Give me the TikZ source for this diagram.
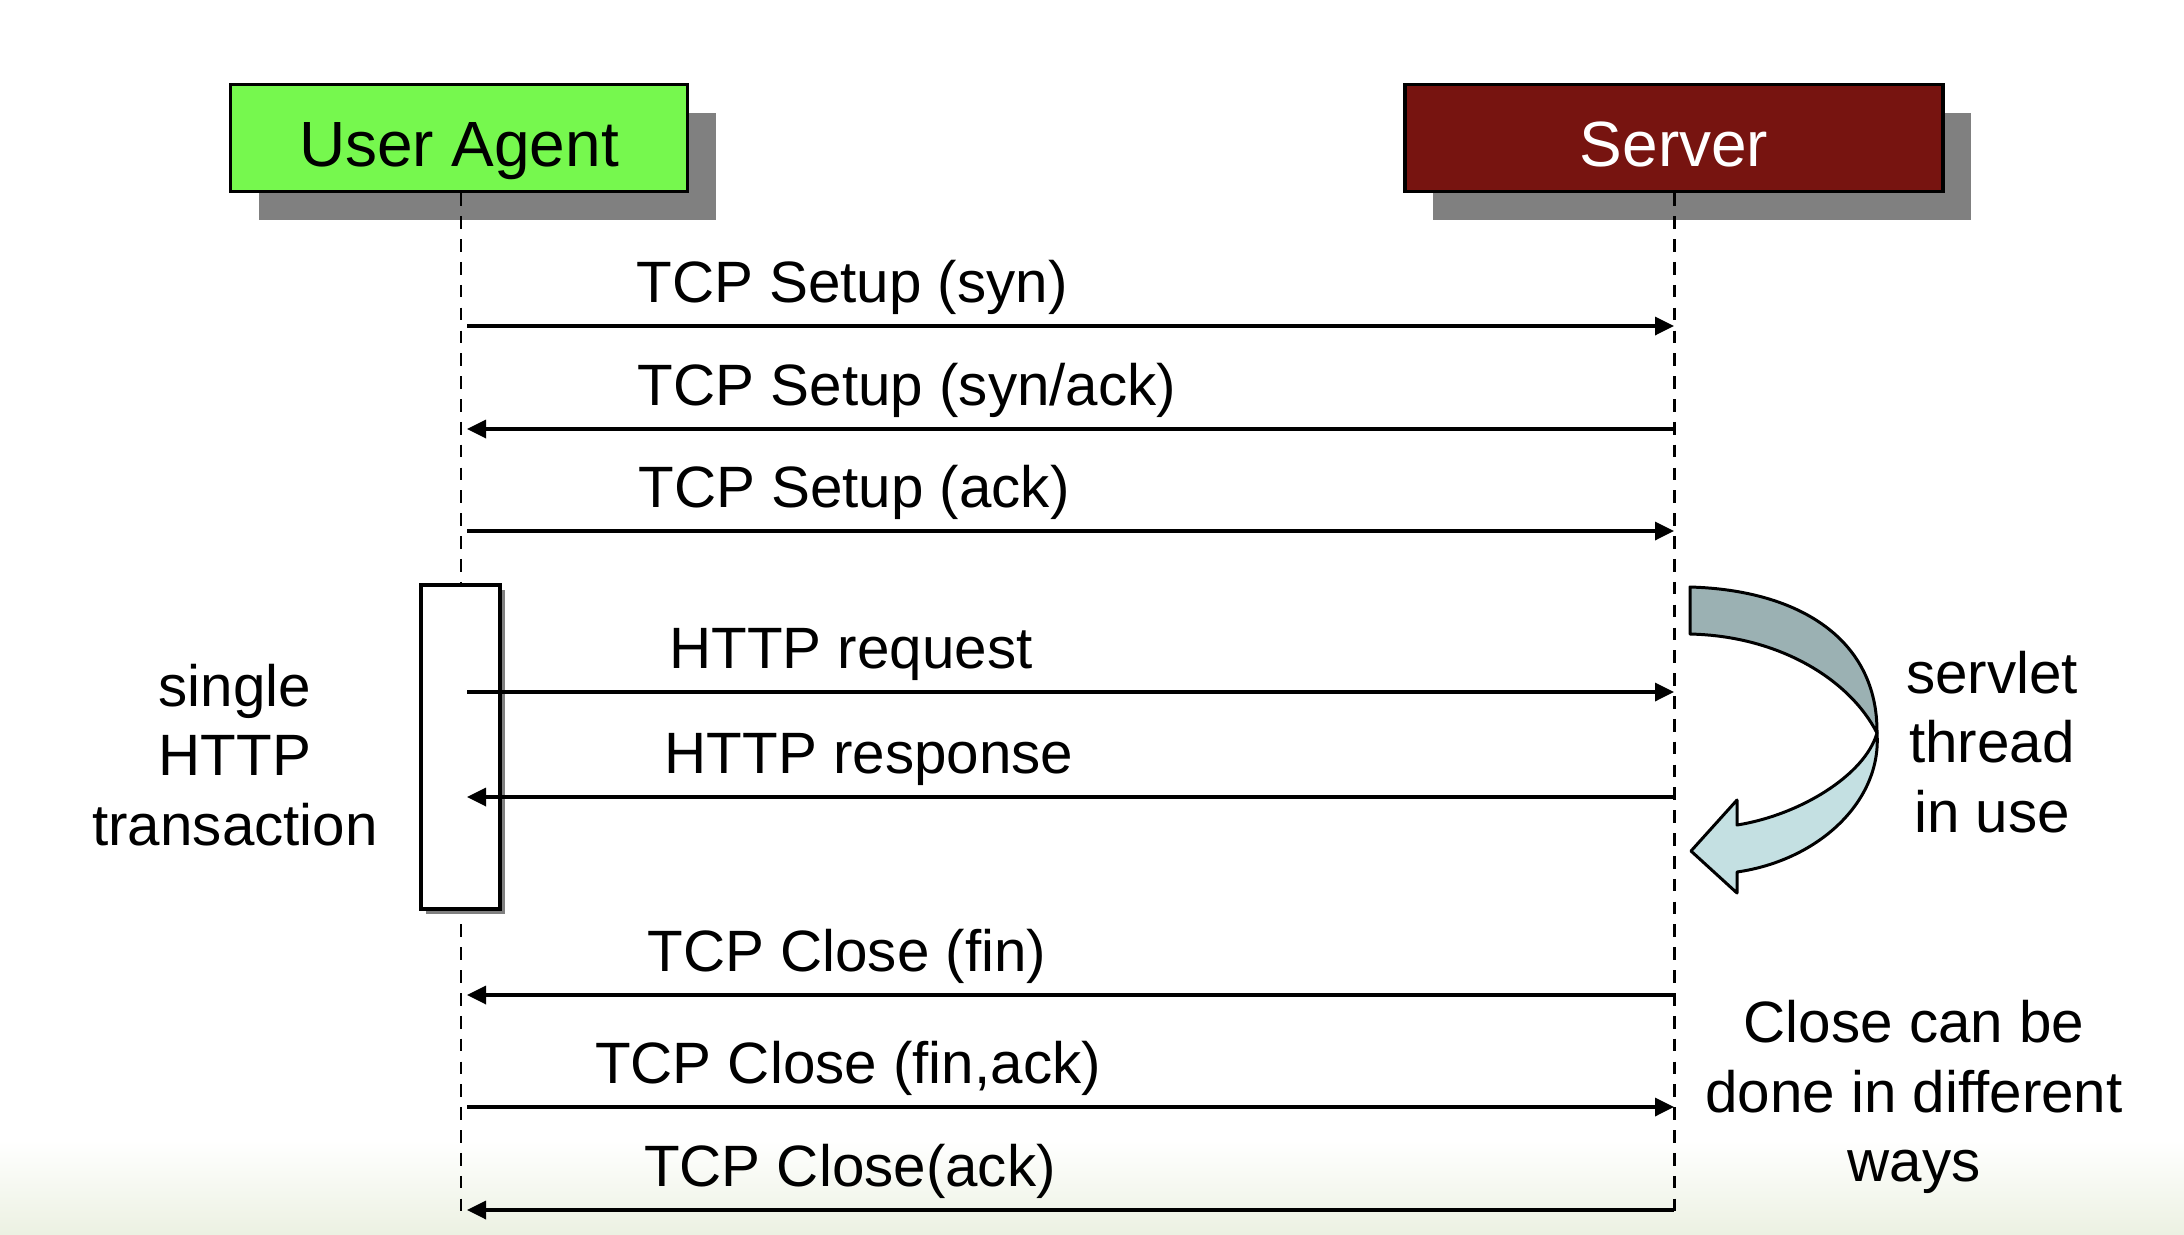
\documentclass[tikz,border=0pt]{standalone}
\usepackage{fontspec}
\setmainfont{Liberation Sans}
\usepackage{tikz}
\usetikzlibrary{
  arrows.meta,
  shadows
}
\definecolor{agent}{RGB}{118,248,78}
\definecolor{server}{RGB}{119,20,16}
\definecolor{threaddark}{RGB}{155,177,179}
\definecolor{threadlight}{RGB}{196,224,226}
\definecolor{slidebg}{RGB}{236,241,226}

\begin{document}
\begin{tikzpicture}[
  actor/.style={rectangle,draw,line width=1.1pt,minimum height=10.7mm,inner sep=0pt,text height=5.7mm,text depth=0mm,font=\fontsize{18.2}{22}\selectfont,drop shadow={shadow xshift=2.8mm,shadow yshift=-2.8mm,fill=gray,opacity=1}},
  activation/.style={rectangle,draw,fill=white,line width=1.1pt,minimum width=7.9mm,minimum height=32.4mm,inner sep=0pt,drop shadow={shadow xshift=0.5mm,shadow yshift=-0.5mm,fill=gray,opacity=1}},
  lifeline/.style={line width=0.85pt,dash pattern=on 3.6pt off 2.9pt},
  msg/.style={-{Triangle[length=1.9mm,width=1.8mm]},line width=0.95pt},
  msglabel/.style={anchor=base,inner sep=0pt,font=\fontsize{16.6}{19.8}\selectfont},
  note/.style={align=center,inner sep=0pt,font=\fontsize{16.6}{19.8}\selectfont},
  thread/.style={line width=0.85pt,line join=round},
]
\useasboundingbox (0,0) rectangle (21.84,-12.34);
\shade[top color=white,bottom color=slidebg] (0,-11.4) rectangle (21.84,-12.34);

% actors
\node[actor,fill=agent,minimum width=45.7mm] (agent) at (4.59,-1.38) {User Agent};
\node[actor,fill=server,text=white,minimum width=53.8mm] (server) at (16.74,-1.38) {Server};
\coordinate (agentend) at (4.61,-12.12);
\coordinate (serverend) at (16.74,-12.12);
\draw[lifeline] (agent.south -| agentend) -- (agentend);
\draw[lifeline] (server.south) -- (serverend);

\node[activation] (act) at (4.605,-7.47) {};

% message end points
\foreach \i/\y in {1/3.26,2/4.29,3/5.31,4/6.92,5/7.97,6/9.95,7/11.07,8/12.10}{
  \coordinate (ua\i) at (4.67,-\y);
  \coordinate (sv\i) at (16.74,-\y);
}

\draw[msg] (ua1) -- (sv1);
\draw[msg] (sv2) -- (ua2);
\draw[msg] (ua3) -- (sv3);
\draw[msg] (ua4) -- (sv4);
\draw[msg] (sv5) -- (ua5);
\draw[msg] (sv6) -- (ua6);
\draw[msg] (ua7) -- (sv7);
\draw[msg] (sv8) -- (ua8);

\node[msglabel] (syn) at (8.52,-3.02) {TCP Setup (syn)};
\node[msglabel] (synack) at (9.07,-4.05) {TCP Setup (syn/ack)};
\node[msglabel] (ack) at (8.54,-5.07) {TCP Setup (ack)};
\node[msglabel] (request) at (8.51,-6.68) {HTTP request};
\node[msglabel] (response) at (8.69,-7.73) {HTTP response};
\node[msglabel] (fin) at (8.47,-9.71) {TCP Close (fin)};
\node[msglabel] (finack) at (8.48,-10.83) {TCP Close (fin,ack)};
\node[msglabel] (closeack) at (8.50,-11.86) {TCP Close(ack)};

% servlet thread arrow
\filldraw[thread,fill=threadlight] (18.77,-7.33) .. controls (18.82,-8.00) and (18.20,-8.60) .. (17.37,-8.72)
  -- (17.37,-8.93) -- (16.91,-8.51) -- (17.37,-8.00) -- (17.37,-8.25)
  .. controls (18.00,-8.15) and (18.65,-7.75) .. (18.77,-7.33) -- cycle;
\filldraw[thread,fill=threaddark] (16.90,-5.87) -- (16.90,-6.34)
  .. controls (17.80,-6.36) and (18.50,-6.80) .. (18.77,-7.33)
  .. controls (18.78,-6.40) and (18.00,-5.90) .. (16.90,-5.87) -- cycle;

% notes
\node[note] (single) at (2.35,-7.55) {single\\HTTP\\transaction};
\node[note] (servlet) at (19.92,-7.42) {servlet\\thread\\in use};
\node[note] (ways) at (19.14,-10.97) {Close can be\\done in different\\ways};
\end{tikzpicture}
\end{document}
